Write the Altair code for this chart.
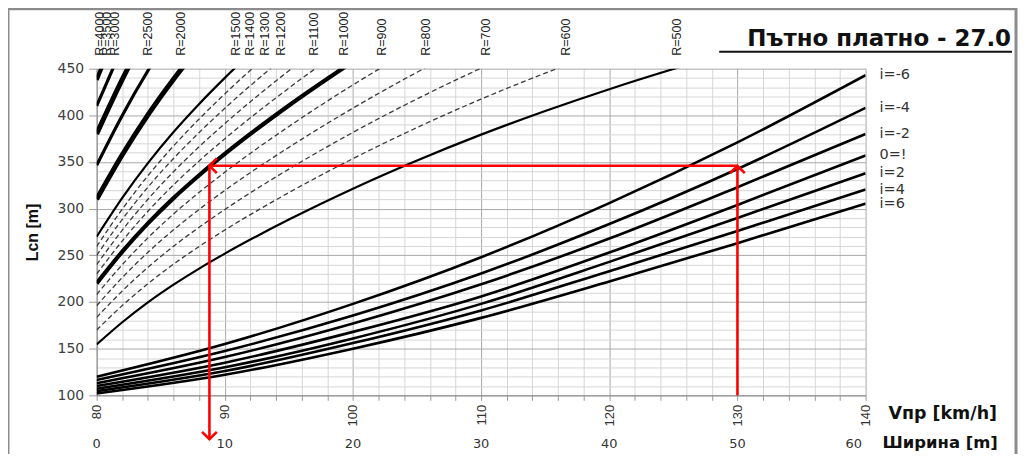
import altair as alt
import pandas as pd

# ---------------- data ----------------
# speed grid used for the radius curves (km/h)
V_R = [80, 82, 84, 86, 88, 90, 95, 100, 105, 110, 115, 120, 125, 130]

R_NAMES = ["R=4000", "R=3500", "R=3000", "R=2500", "R=2000", "R=1500", "R=1400", "R=1300",
           "R=1200", "R=1100", "R=1000", "R=900", "R=800", "R=700", "R=600", "R=500"]
L_R4000 = [438, 505.5]
L_R3500 = [410, 473.1]
L_R3000 = [380, 438.5, 491]
L_R2500 = [346.5, 399.9, 447.7, 490.3]
L_R2000 = [310, 357.7, 400.5, 438.7, 473.2]
L_R1500 = [270, 311.6, 348.8, 382.1, 412.2, 440.1, 503.8]
L_R1400 = [259.5, 299.5, 335.3, 367.2, 396.1, 423, 484.2]
L_R1300 = [250, 288.5, 323, 353.8, 381.6, 407.5, 466.5]
L_R1200 = [240, 277, 310.1, 339.6, 366.4, 391.2, 447.8, 499.2]
L_R1100 = [230, 265.4, 297.2, 325.5, 351.1, 374.9, 429.2, 478.4]
L_R1000 = [220, 253.9, 284.2, 311.3, 335.8, 358.6, 410.5, 457.6]
L_R900 = [208, 240, 268.7, 294.3, 317.5, 339, 388.1, 432.6, 473.4]
L_R800 = [196, 226.2, 253.2, 277.3, 299.2, 319.5, 365.7, 407.7, 446.1, 481.2]
L_R700 = [183.5, 211.8, 237.1, 259.7, 280.1, 299.1, 342.4, 381.7, 417.6, 450.5, 480.6]
L_R600 = [170, 196.2, 219.6, 240.6, 259.5, 277.1, 317.2, 353.6, 386.9, 417.4, 445.2, 470.9]
L_R500 = [154.5, 178.3, 199.6, 218.6, 235.8, 251.8, 288.3, 321.4, 351.6, 379.3, 404.6,
          428, 449.6, 469.7]
# speed at which each radius label sits along the top edge
R_LABEL_V = [80.23, 80.78, 81.45, 83.99, 86.58, 90.86, 91.95, 93.11, 94.35, 96.94, 99.27,
             102.3, 105.7, 110.4, 116.6, 125.3]

# gradient family
V_I = [80, 90, 100, 110, 120, 130, 140]
I_NAMES = ["i=-6", "i=-4", "i=-2", "0=!", "i=2", "i=4", "i=6"]
L_IM6 = [120, 155, 198, 248, 306, 371, 443]
L_IM4 = [116.5, 147.5, 185.5, 230.5, 283.5, 342.5, 408]
L_IM2 = [113, 141, 177, 219, 268, 323, 380]
L_I0 = [110, 135, 168, 206, 253, 304, 357]
L_IP2 = [107, 130, 161, 198, 243, 290, 338]
L_IP4 = [104.5, 126, 156, 191, 233, 276, 320.5]
L_IP6 = [102, 122, 150, 183, 222, 263, 305.5]

# secondary scale (road width) labels
WIDTH_TICKS = [0, 10, 20, 30, 40, 50, 60]

# worked example (red arrows)
EX_V_START = 130
EX_V_END = 88.8
EX_L = 346
EX_L_AXIS = 100
EX_L_DOWN = 53

# ---------------- styles ----------------
THICK5 = ["R=3000", "R=2000"]
THICK4 = ["R=4000", "R=1000"]
THICK3 = ["R=3500", "R=2500"]
SOLID2 = ["R=1500", "R=500"]
DASHED = ["R=1400", "R=1300", "R=1200", "R=1100", "R=900", "R=800", "R=700", "R=600"]

# ---------------- tables ----------------
R_SERIES = [L_R4000, L_R3500, L_R3000, L_R2500, L_R2000, L_R1500, L_R1400, L_R1300,
            L_R1200, L_R1100, L_R1000, L_R900, L_R800, L_R700, L_R600, L_R500]
r_rows = []
for name, vals in zip(R_NAMES, R_SERIES):
    for v, l in zip(V_R, vals):
        r_rows.append({"R": name, "V": v, "L": l})
r_df = pd.DataFrame(r_rows)
r_lab_df = pd.DataFrame({"R": R_NAMES, "V": R_LABEL_V})

I_SERIES = [L_IM6, L_IM4, L_IM2, L_I0, L_IP2, L_IP4, L_IP6]
i_rows = []
for name, vals in zip(I_NAMES, I_SERIES):
    for v, l in zip(V_I, vals):
        i_rows.append({"i": name, "V": v, "L": l})
i_df = pd.DataFrame(i_rows)
i_lab_df = pd.DataFrame({"i": I_NAMES, "V": [V_I[-1]] * len(I_NAMES),
                         "L": [s[-1] for s in I_SERIES]})

red_df = pd.DataFrame({
    "V": [EX_V_START, EX_V_START, EX_V_END],
    "L": [EX_L_AXIS, EX_L, EX_L],
    "V2": [EX_V_START, EX_V_END, EX_V_END],
    "L2": [EX_L, EX_L, EX_L_DOWN],
})
width_df = pd.DataFrame({"w": WIDTH_TICKS})

# ---------------- scales & axes ----------------
xs = alt.Scale(domain=[80, 140], nice=False, zero=False)
ys = alt.Scale(domain=[100, 450], nice=False, zero=False)

x_axis = alt.Axis(
    values=list(range(80, 141, 2)),
    labelExpr="datum.value % 10 === 0 ? datum.label : ''",
    labelAngle=270, labelFont="Liberation Sans", labelFontSize=13, labelColor="#333333",
    labelPadding=4, tickSize=5, tickColor="#9a9a9a", domainColor="#8a8a8a",
    grid=True,
    gridColor={"condition": {"test": "datum.value % 10 === 0", "value": "#a8a8a8"},
               "value": "#d6d6d6"},
    title="",
)
y_axis = alt.Axis(
    values=list(range(100, 451, 10)),
    labelExpr="datum.value % 50 === 0 ? datum.label : ''",
    labelFont="DejaVu Sans", labelFontSize=14, labelColor="#404040", labelPadding=5,
    tickSize=8,
    tickColor={"condition": {"test": "datum.value % 50 === 0", "value": "#9a9a9a"},
               "value": "transparent"},
    domainColor="#8a8a8a",
    grid=True,
    gridColor={"condition": {"test": "datum.value % 50 === 0", "value": "#a8a8a8"},
               "value": "#d6d6d6"},
    title="Lcn [m]", titleFont="Liberation Sans", titleFontSize=16, titleFontWeight="bold",
    titleColor="#111111", titlePadding=17,
)

X = alt.X("V:Q", scale=xs, axis=x_axis)
Y = alt.Y("L:Q", scale=ys, axis=y_axis)

# ---------------- layers ----------------
frame = alt.Chart(pd.DataFrame({"k": [0]})).mark_rect(
    fill="transparent", stroke="#8c8c8c", strokeWidth=3, clip=False
).encode(x=alt.value(-89), x2=alt.value(923), y=alt.value(-60), y2=alt.value(480))

i_lines = alt.Chart(i_df).mark_line(
    color="black", strokeWidth=2.6, interpolate="monotone", clip=True
).encode(x=X, y=Y, detail="i:N")


def r_layer(names, **kw):
    return alt.Chart(r_df).transform_filter(
        alt.FieldOneOfPredicate(field="R", oneOf=names)
    ).mark_line(interpolate="monotone", clip=True, **kw).encode(x=X, y=Y, detail="R:N")


r_dashed = r_layer(DASHED, color="#3a3a3a", strokeWidth=1.3, strokeDash=[5, 3])
r_thin = r_layer(SOLID2, color="black", strokeWidth=2.2)
r_t3 = r_layer(THICK3, color="black", strokeWidth=3.2)
r_t4 = r_layer(THICK4, color="black", strokeWidth=4.2)
r_t5 = r_layer(THICK5, color="black", strokeWidth=5)

r_labels = alt.Chart(r_lab_df).mark_text(
    angle=270, align="left", baseline="middle", font="Liberation Sans", fontSize=12.5,
    color="#222222"
).encode(x=X, y=alt.value(-13), text="R:N")

i_labels = alt.Chart(i_lab_df).mark_text(
    align="left", baseline="middle", dx=14, font="DejaVu Sans", fontSize=14.5,
    color="#333333"
).encode(x=X, y=Y, text="i:N")

red = alt.Chart(red_df).mark_rule(color="#ff0000", strokeWidth=2.6, clip=False).encode(
    x=X, y=Y, x2="V2:Q", y2="L2:Q")


def head(v, l, path):
    return alt.Chart(pd.DataFrame({"V": [v], "L": [l]})).mark_point(
        shape=path, filled=False, stroke="#ff0000", strokeWidth=2.6, size=220,
        opacity=1, clip=False
    ).encode(x=X, y=Y)


h_up = head(EX_V_START, EX_L, "M-1,1L0,0L1,1")
h_left = head(EX_V_END, EX_L, "M1,-1L0,0L1,1")
h_down = head(EX_V_END, EX_L_DOWN, "M-1,-1L0,0L1,-1")

width_labels = alt.Chart(width_df).transform_filter("datum.w < 60").transform_calculate(
    V="datum.w + 80").mark_text(
    align="center", baseline="middle", font="DejaVu Sans", fontSize=13, color="#333333"
).encode(x=X, y=alt.value(377), text="w:Q")
width_last = alt.Chart(width_df).transform_filter("datum.w >= 60").transform_calculate(
    V="datum.w + 80").mark_text(
    align="center", baseline="middle", dx=-12, font="DejaVu Sans", fontSize=13,
    color="#333333"
).encode(x=X, y=alt.value(377), text="w:Q")

ann = pd.DataFrame({"t": ["Vпр [km/h]", "Ширина [m]", "Пътно платно - 27.0"]})
t_speed = alt.Chart(ann).transform_filter("datum.t == 'Vпр [km/h]'").mark_text(
    align="left", baseline="middle", font="DejaVu Sans", fontWeight="bold", fontSize=17.5,
    color="#111111").encode(x=alt.value(795), y=alt.value(347), text="t:N")
t_width = alt.Chart(ann).transform_filter("datum.t == 'Ширина [m]'").mark_text(
    align="left", baseline="middle", font="DejaVu Sans", fontWeight="bold", fontSize=16.5,
    color="#111111").encode(x=alt.value(789), y=alt.value(376), text="t:N")
t_title = alt.Chart(ann).transform_filter("datum.t == 'Пътно платно - 27.0'").mark_text(
    align="right", baseline="middle", font="DejaVu Sans", fontWeight="bold", fontSize=23,
    color="#111111").encode(x=alt.value(918), y=alt.value(-30), text="t:N")
underline = alt.Chart(pd.DataFrame({"k": [0]})).mark_rule(
    color="#111111", strokeWidth=2, clip=False
).encode(x=alt.value(625), x2=alt.value(919), y=alt.value(-17))

chart = alt.layer(
    frame, i_lines, r_dashed, r_thin, r_t3, r_t4, r_t5, red, h_up, h_left, h_down,
    r_labels, i_labels, width_labels, width_last, t_speed, t_width, t_title, underline
).properties(
    width=772, height=328,
    autosize=alt.AutoSizeParams(type="none"),
    padding={"left": 89, "top": 60, "right": 153, "bottom": 58},
    background="white",
).configure_view(strokeWidth=0)

chart.save("out.html", embed_options={"renderer": "svg", "actions": False})
